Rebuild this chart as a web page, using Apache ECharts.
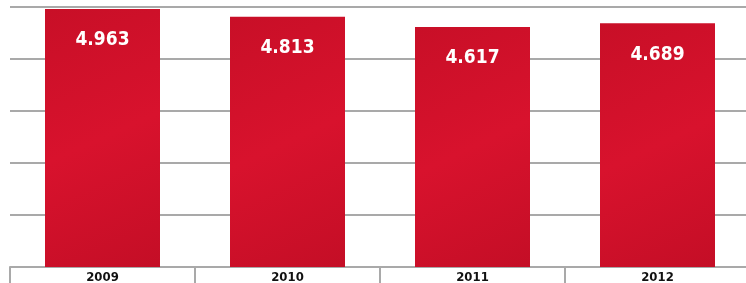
<!DOCTYPE html>
<html>
<head>
<meta charset="utf-8">
<script src="https://cdn.jsdelivr.net/npm/echarts@6/dist/echarts.min.js"></script>
<style>
  html, body { margin: 0; padding: 0; background: #fff; }
  #chart { width: 746px; height: 283px; }
</style>
</head>
<body>
<div id="chart"></div>
<script>
// 年份
var years = ["2009", "2010", "2011", "2012"];
// 数值
var values = [4.963, 4.813, 4.617, 4.689];

var font = "'DejaVu Sans Condensed', 'Liberation Sans', sans-serif";

var myChart = echarts.init(document.getElementById("chart"));
var option = {
  animation: false,
  grid: {
    top: 7,
    left: 10,
    width: 740,
    bottom: 16,
    outerBoundsMode: "none",
  },
  xAxis: {
    type: "category",
    data: years,
    axisLine: {
      lineStyle: { color: "#a9a9a9", width: 2 },
    },
    axisTick: {
      show: true,
      interval: 0,
      length: 18,
      lineStyle: { color: "#a9a9a9", width: 2 },
    },
    axisLabel: {
      color: "#111",
      fontFamily: font,
      fontWeight: "bold",
      fontSize: 13,
      margin: 4,
    },
  },
  yAxis: {
    type: "value",
    min: 0,
    max: 5,
    interval: 1,
    axisLine: { show: false },
    axisTick: { show: false },
    axisLabel: { show: false },
    splitLine: {
      lineStyle: { color: "#a9a9a9", width: 2 },
    },
  },
  series: [
    {
      type: "bar",
      data: values,
      barWidth: 115,
      itemStyle: {
        color: new echarts.graphic.LinearGradient(0, 0, 1, 1, [
          { offset: 0, color: "#c80f27" },
          { offset: 0.5, color: "#d8122d" },
          { offset: 1, color: "#c40e26" },
        ]),
      },
      label: {
        show: true,
        position: "insideTop",
        distance: 22,
        color: "#fff",
        fontFamily: font,
        fontWeight: "bold",
        fontSize: 19,
        formatter: function (p) {
          return p.value.toFixed(3);
        },
      },
    },
  ],
};
myChart.setOption(option);
</script>
</body>
</html>
